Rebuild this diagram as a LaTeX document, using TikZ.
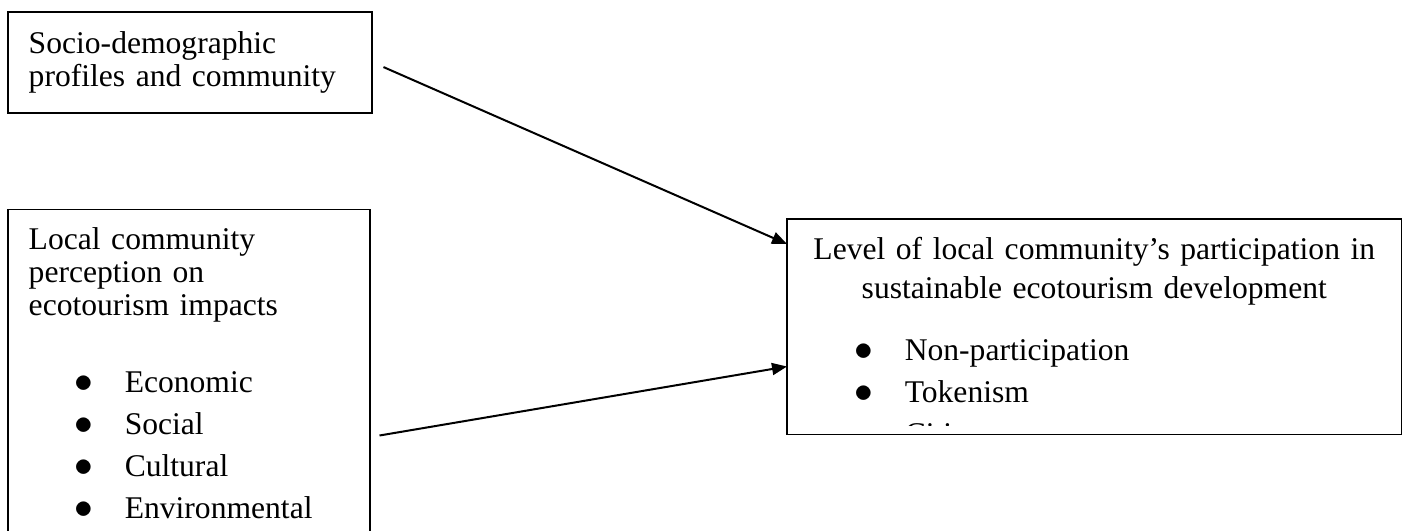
\documentclass[tikz,border=0pt]{standalone}
\usepackage{fontspec}
\setmainfont{Liberation Serif}
\usepackage{tikz}
\usetikzlibrary{arrows.meta, positioning}
\tikzset{
    box/.style={rectangle, draw, line width=0.75pt, inner xsep=10.5pt, inner ysep=9pt, align=left, anchor=north west, font=\fontsize{15.8}{16.5}\selectfont},
    frame/.style={line width=0.75pt},
    arrow/.style={-{Triangle[length=7.5pt, width=6pt]}, line width=1pt}
}
\newcommand{\bitem}[1]{\makebox[48pt][l]{\hspace{23pt}\scalebox{1.3}{$\bullet$}}#1}

\begin{document}
\begin{tikzpicture}[x=0.5pt, y=-0.5pt]
    \useasboundingbox (0,0) rectangle (1407,530);

    % Input boxes
    \node[box, text width=161pt, minimum width=182pt, minimum height=50.5pt] (sdp) at (7,11) {Socio-demographic\\profiles and community};
    \node[box, text width=160pt, minimum width=181pt, below=47.5pt of sdp.south west, anchor=north west] (perc) {Local community\\perception on\\ecotourism impacts\\[22pt]
        \bitem{Economic}\\[4.5pt]
        \bitem{Social}\\[4.5pt]
        \bitem{Cultural}\\[4.5pt]
        \bitem{Environmental}};

    % Participation level (last line cut off by the frame)
    \begin{scope}
        \clip (787,219) rectangle (1400,425);
        \node[box, draw=none, text width=285.5pt, minimum width=306.5pt, text height=10.8pt, text depth=78.2pt] (lvl) at (787,219) {\makebox[\linewidth]{Level of local community’s participation in}\\[3pt]
            \makebox[\linewidth]{sustainable ecotourism development}\\[14.5pt]
            \bitem{Non-participation}\\[4.5pt]
            \bitem{Tokenism}\\[4.5pt]
            \bitem{Citizen power}};
    \end{scope}
    \draw[frame] (lvl.north west) rectangle (lvl.south east);

    % Connections
    \draw[arrow, shorten <=6pt] (sdp.east) -- ([yshift=-12.5pt]lvl.north west);
    \draw[arrow] ([shift={(4.5pt,-113.5pt)}]perc.north east) -- ([yshift=34pt]lvl.south west);
\end{tikzpicture}
\end{document}
